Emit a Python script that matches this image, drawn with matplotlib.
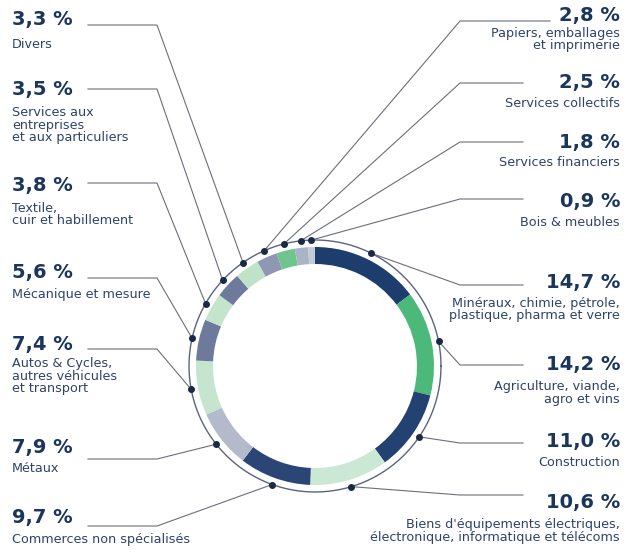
import numpy as np
import matplotlib
matplotlib.use("Agg")
import matplotlib.pyplot as plt

# parts (%) clockwise from the top of the ring
values = [14.7, 14.2, 11.0, 10.6, 9.7, 7.9, 7.4, 5.6, 3.8, 3.5, 3.3, 2.8, 2.5, 1.8, 0.9]
labels = [
    "Minéraux, chimie, pétrole,\nplastique, pharma et verre",
    "Agriculture, viande,\nagro et vins",
    "Construction",
    "Biens d'équipements électriques,\nélectronique, informatique et télécoms",
    "Commerces non spécialisés",
    "Métaux",
    "Autos & Cycles,\nautres véhicules\net transport",
    "Mécanique et mesure",
    "Textile,\ncuir et habillement",
    "Services aux\nentreprises\net aux particuliers",
    "Divers",
    "Papiers, emballages\net imprimerie",
    "Services collectifs",
    "Services financiers",
    "Bois & meubles",
]
colors = ["#1d3d6c", "#4cb87a", "#234272", "#cbe8d4", "#2b4674", "#b2bacb",
          "#c5e5ce", "#6d7a9c", "#c2e5cc", "#6d7a9c", "#bfe3c9", "#8e98b3",
          "#6fc58e", "#aab4c6", "#c3cbd6"]

# label layout (image pixel coords)
side = ["R", "R", "R", "R", "L", "L", "L", "L", "L", "L", "L", "R", "R", "R", "R"]
line_y = [285, 365, 443, 495, 526, 459, 349, 278, 183, 89, 25, 21, 83, 142, 199]
pct_base = [288, 370, 447, 508, 523, 453, 350, 278, 191, 95, 25, 21, 88, 148, 207]
lab_top = [297, 380, 456, 518, 533, 462, 357, 288, 202, 106, 38, 27, 97, 156, 216]

NAVY = "#1b365d"
TXT = "#2e426a"
LINE = "#6b6f7a"

cx, cy = 315, 366
r_out, width, r_ring = 119, 17, 126

fig = plt.figure(figsize=(6.32, 5.53), dpi=100)
ax = fig.add_axes([0, 0, 1, 1])

ax.pie(values, colors=colors, startangle=-90, counterclock=True,
       radius=r_out, center=(cx, cy),
       wedgeprops=dict(width=width, linewidth=0))

t = np.linspace(0, 2 * np.pi, 400)
ax.plot(cx + r_ring * np.cos(t), cy + r_ring * np.sin(t), color="#5a6480", lw=1.0)

frac = np.cumsum(values) / np.sum(values)
mid = (frac - np.array(values) / np.sum(values) / 2) * 2 * np.pi - np.pi / 2

for i, v in enumerate(values):
    dx = cx + r_ring * np.cos(mid[i])
    dy = cy + r_ring * np.sin(mid[i])
    ly = line_y[i]
    pct = f"{v:.1f}".replace(".", ",") + " %"
    if side[i] == "L":
        ax.plot([88, 157, dx], [ly, ly, dy], color=LINE, lw=0.8)
        ax.text(12, pct_base[i], pct, ha="left", va="baseline", fontsize=14,
                fontweight="bold", color=NAVY)
        ax.text(12, lab_top[i], labels[i], ha="left", va="top", fontsize=9.2,
                color=TXT, linespacing=0.95)
    else:
        x_start = 550 if i == 11 else 523
        ax.plot([x_start, 460, dx], [ly, ly, dy], color=LINE, lw=0.8)
        ax.text(620, pct_base[i], pct, ha="right", va="baseline", fontsize=14,
                fontweight="bold", color=NAVY)
        ax.text(620, lab_top[i], labels[i], ha="right", va="top", fontsize=9.2,
                color=TXT, linespacing=0.95, multialignment="right")
    ax.plot(dx, dy, "o", color="#1b2a44", ms=4)

ax.set_xlim(0, 632)
ax.set_ylim(553, 0)
ax.set_aspect("auto")
ax.axis("off")

fig.savefig("out.png", dpi=100, facecolor="white")
